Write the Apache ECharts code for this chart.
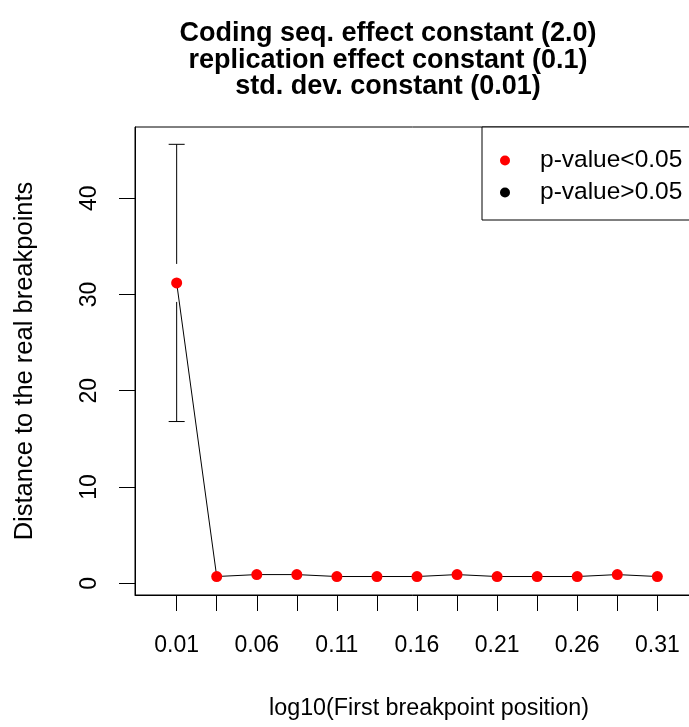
<!DOCTYPE html>
<html>
<head>
<meta charset="utf-8">
<script src="https://cdn.jsdelivr.net/npm/echarts@6/dist/echarts.min.js"></script>
<style>
  html, body { margin: 0; padding: 0; background: #fff; }
  #chart { width: 689px; height: 727px; }
</style>
</head>
<body>
<div id="chart"></div>
<script>
// ---- data ----
const xPositions = [0.01, 0.035, 0.06, 0.085, 0.11, 0.135, 0.16, 0.185, 0.21, 0.235, 0.26, 0.285, 0.31];
const distances  = [31.2, 0.7, 0.9, 0.9, 0.7, 0.7, 0.7, 0.9, 0.7, 0.7, 0.7, 0.9, 0.7];
const errorBars  = [[0.01, 16.8, 45.6, 31.2]]; // x, lower, upper, centre
const xTickValues  = [0.01, 0.035, 0.06, 0.085, 0.11, 0.135, 0.16, 0.185, 0.21, 0.235, 0.26, 0.285, 0.31];
const xLabelValues = [0.01, 0.06, 0.11, 0.16, 0.21, 0.26, 0.31];
const yTickValues  = [0, 10, 20, 30, 40];
const titleLines = ['Coding seq. effect constant (2.0)', 'replication effect constant (0.1)', 'std. dev. constant (0.01)'];
const legendNames = ['p-value<0.05', 'p-value>0.05'];
const xAxisName = 'log10(First breakpoint position)';
const yAxisName = 'Distance to the real breakpoints';

const FONT = '"Liberation Sans", Arial, Helvetica, sans-serif';
const chart = echarts.init(document.getElementById('chart'), null, { renderer: 'canvas' });

const pts = xPositions.map((x, i) => [x, distances[i]]);

const option = {
  backgroundColor: '#fff',
  animation: false,
  grid: { left: 135, top: 127, width: 564, height: 468, outerBoundsMode: 'none', containLabel: false,
          show: true, borderColor: '#000', borderWidth: 1, backgroundColor: 'transparent' },
  xAxis: {
    type: 'value', min: -0.016, max: 0.336,
    axisLine: { show: true, onZero: false, lineStyle: { color: '#000', width: 1 } },
    axisTick: { show: true, length: 16, customValues: xTickValues, lineStyle: { color: '#000', width: 1 } },
    axisLabel: { customValues: xLabelValues, margin: 39, color: '#000', fontFamily: FONT, fontSize: 23,
                 formatter: v => v.toFixed(2) },
    splitLine: { show: false }
  },
  yAxis: {
    type: 'value', min: -1.22, max: 47.4,
    axisLine: { show: true, onZero: false, lineStyle: { color: '#000', width: 1 } },
    axisTick: { show: true, length: 16, customValues: yTickValues, lineStyle: { color: '#000', width: 1 } },
    axisLabel: { customValues: yTickValues, rotate: 90, margin: 34, color: '#000', fontFamily: FONT, fontSize: 23 },
    splitLine: { show: false }
  },
  legend: {
    orient: 'vertical', left: 500, top: 148, padding: 0, itemGap: 7,
    itemWidth: 60, itemHeight: 10, selectedMode: false,
    textStyle: { fontFamily: FONT, fontSize: 24.5, color: '#000' },
    data: [{ name: legendNames[0], icon: 'circle' }, { name: legendNames[1], icon: 'circle' }],
    z: 10
  },
  graphic: [
    { type: 'rect', z: 5, shape: { x: 482, y: 127, width: 300, height: 93 },
      style: { fill: '#fff', stroke: '#000', lineWidth: 1 } },
    ...titleLines.map((t, i) => ({
      type: 'text', z: 10, x: 388, y: [34, 61, 87][i],
      style: { text: t, fontFamily: FONT, fontSize: 27, fontWeight: 'bold', fill: '#000', align: 'center', verticalAlign: 'middle' }
    })),
    { type: 'text', z: 10, x: 429, y: 709,
      style: { text: xAxisName, fontFamily: FONT, fontSize: 23.3, fill: '#000', align: 'center', verticalAlign: 'middle' } },
    { type: 'text', z: 10, x: 25, y: 361, rotation: Math.PI / 2,
      style: { text: yAxisName, fontFamily: FONT, fontSize: 25.5, fill: '#000', align: 'center', verticalAlign: 'middle' } }
  ],
  series: [
    { type: 'line', data: pts, symbol: 'none', lineStyle: { color: '#000', width: 1 }, z: 2, silent: true },
    { type: 'custom', data: errorBars, z: 2, silent: true,
      renderItem: (params, api) => {
        const top = api.coord([api.value(0), api.value(2)]);
        const bot = api.coord([api.value(0), api.value(1)]);
        const mid = api.coord([api.value(0), api.value(3)]);
        const gap = 19, cap = 8;
        const ls = { stroke: '#000', lineWidth: 1 };
        return { type: 'group', children: [
          { type: 'line', shape: { x1: top[0], y1: top[1], x2: top[0], y2: mid[1] - gap }, style: ls },
          { type: 'line', shape: { x1: bot[0], y1: mid[1] + gap, x2: bot[0], y2: bot[1] }, style: ls },
          { type: 'line', shape: { x1: top[0] - cap, y1: top[1], x2: top[0] + cap, y2: top[1] }, style: ls },
          { type: 'line', shape: { x1: bot[0] - cap, y1: bot[1], x2: bot[0] + cap, y2: bot[1] }, style: ls }
        ] };
      }
    },
    { type: 'scatter', name: legendNames[0], data: pts, symbol: 'circle', symbolSize: 11, itemStyle: { color: '#ff0000', opacity: 1 }, z: 3 },
    { type: 'scatter', name: legendNames[1], data: [], symbol: 'circle', symbolSize: 11, itemStyle: { color: '#000000', opacity: 1 }, z: 3 }
  ]
};
chart.setOption(option);
</script>
</body>
</html>
